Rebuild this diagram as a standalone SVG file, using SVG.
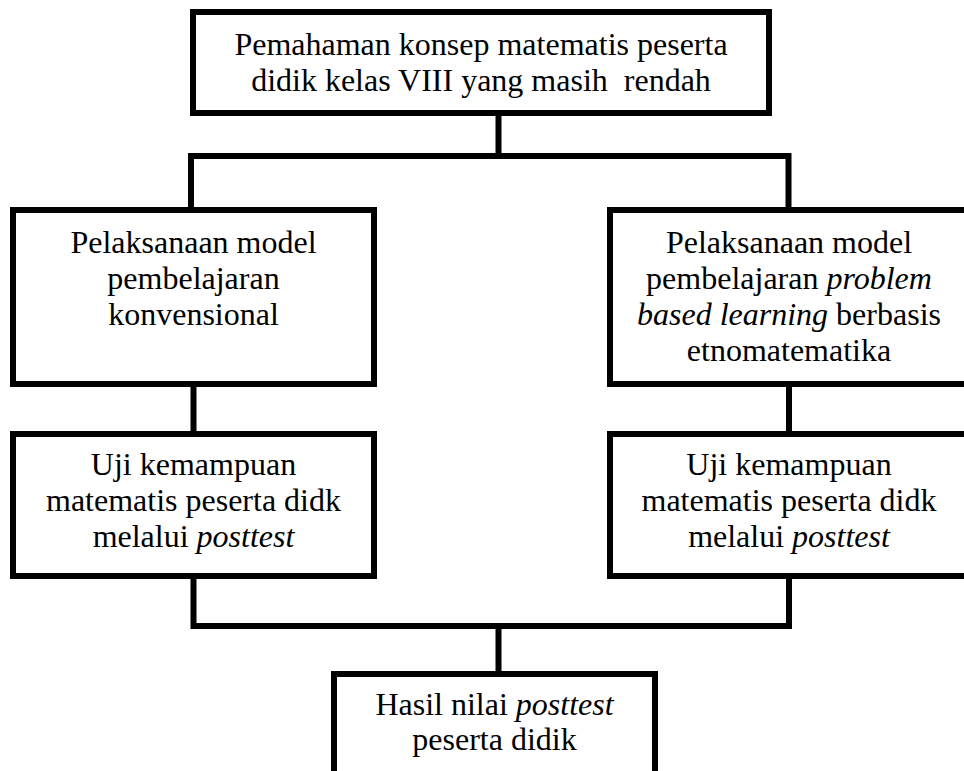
<svg xmlns="http://www.w3.org/2000/svg" width="964" height="771" viewBox="0 0 964 771">
<style>
.box{fill:#fff;stroke:#000;stroke-width:6;stroke-linejoin:miter}
.conn{fill:none;stroke:#000;stroke-width:6;stroke-linejoin:miter;stroke-linecap:butt}
text{font-family:'Liberation Serif','Times New Roman',Times,Tinos,serif;font-size:32px;fill:#000;text-anchor:middle;white-space:pre}
.i{font-style:italic}
</style>
<rect width="964" height="771" fill="#fff"/>
<g id="connectors">
<path class="conn" d="M498.5 113 V156"/>
<path class="conn" d="M191 210 V156 H788.5 V210"/>
<path class="conn" d="M193.5 384 V434"/>
<path class="conn" d="M789 384 V434"/>
<path class="conn" d="M193.5 576 V626 H789 V576"/>
<path class="conn" d="M498.5 626 V674"/>
</g>
<g id="top">
<rect class="box" x="193" y="12" width="576" height="101"/>
<text x="481" y="55">Pemahaman konsep matematis peserta</text>
<text x="481" y="91" xml:space="preserve">didik kelas VIII yang masih  rendah</text>
</g>
<g id="left1">
<rect class="box" x="13" y="210" width="361" height="174"/>
<text x="193.5" y="253">Pelaksanaan model</text>
<text x="193.5" y="289">pembelajaran</text>
<text x="193.5" y="325">konvensional</text>
</g>
<g id="right1">
<rect class="box" x="610" y="210" width="361" height="174"/>
<text x="789" y="253">Pelaksanaan model</text>
<text x="789" y="289">pembelajaran <tspan class="i">problem</tspan></text>
<text x="789" y="325"><tspan class="i">based learning</tspan> berbasis</text>
<text x="789" y="361">etnomatematika</text>
</g>
<g id="left2">
<rect class="box" x="13" y="434" width="361" height="142"/>
<text x="193.5" y="475">Uji kemampuan</text>
<text x="193.5" y="511">matematis peserta didk</text>
<text x="193.5" y="547">melalui <tspan class="i">posttest</tspan></text>
</g>
<g id="right2">
<rect class="box" x="610" y="434" width="361" height="142"/>
<text x="789" y="475">Uji kemampuan</text>
<text x="789" y="511">matematis peserta didk</text>
<text x="789" y="547">melalui <tspan class="i">posttest</tspan></text>
</g>
<g id="bottom">
<rect class="box" x="334" y="674" width="321" height="120"/>
<text x="494.5" y="715">Hasil nilai <tspan class="i">posttest</tspan></text>
<text x="494.5" y="750">peserta didik</text>
</g>
</svg>
